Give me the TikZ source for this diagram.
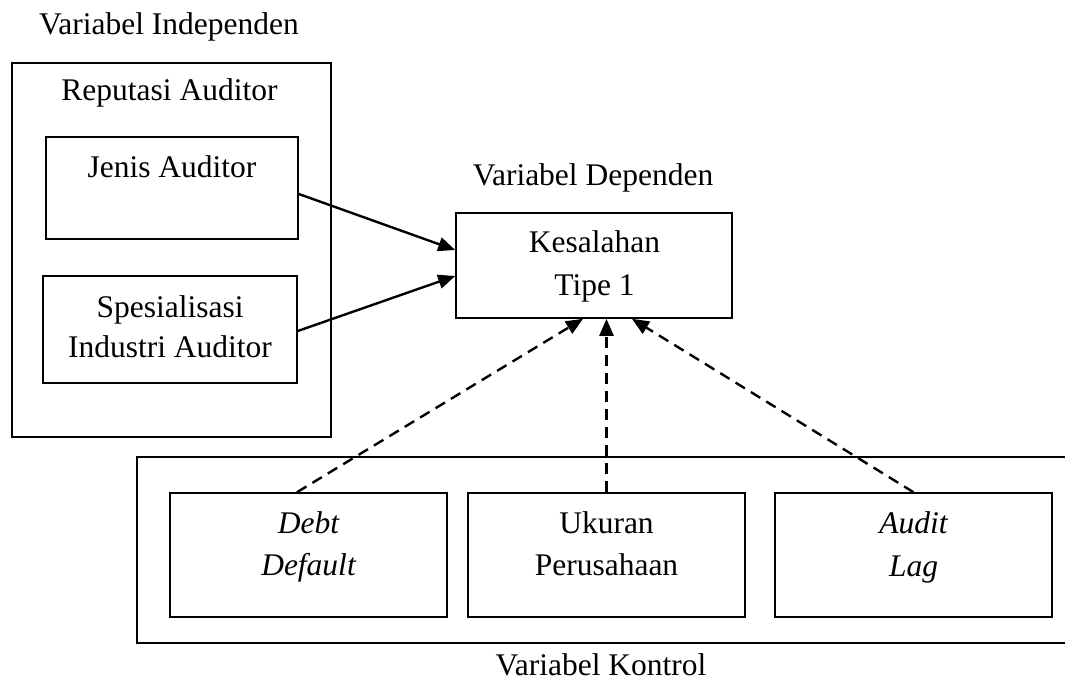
\documentclass[tikz,border=0pt]{standalone}
\usepackage{fontspec}
\setmainfont{Liberation Serif}
\usetikzlibrary{calc,arrows.meta}
\begin{document}
\begin{tikzpicture}[x=1pt,y=-1pt,
  every node/.style={font=\fontsize{31.5}{42}\selectfont},
  box/.style={draw, line width=1.6pt, inner sep=0pt},
  lbl/.style={anchor=base, inner sep=0pt},
  link/.style={line width=2.4pt, -{Triangle[length=17pt,width=14pt]}},
  ctrl/.style={link, dash pattern=on 11pt off 7pt},
  frame/.style={line width=1.6pt}]
\useasboundingbox (0,0) rectangle (1065,690);

% independent variables
\node[lbl] (tindep) at (169,35) {Variabel Independen};
\node[box, minimum width=319, minimum height=374] (rep) at (171.5,250) {};
\node[lbl] (trep) at (169.5,101) {Reputasi Auditor};
\node[box, minimum width=252, minimum height=102] (jenis) at (172,188) {};
\node[lbl] (tjenis) at (172,177) {Jenis Auditor};
\node[box, minimum width=254, minimum height=107] (spes) at (170,329.5) {};
\node[lbl] (tspes1) at (170,317) {Spesialisasi};
\node[lbl] (tspes2) at (170,357) {Industri Auditor};

% dependent variable
\node[lbl] (tdep) at (593,185) {Variabel Dependen};
\node[box, minimum width=276, minimum height=105] (kes) at (594,265.5) {};
\node[lbl] (tkes1) at (594.5,252) {Kesalahan};
\node[lbl] (tkes2) at (594.5,295) {Tipe 1};

% control variables
\draw[frame] (1070,457) -- (137,457) -- (137,643) -- (1070,643);
\node[box, minimum width=277, minimum height=124] (debt) at (308.5,555) {};
\node[lbl] (tdebt1) at (308.5,533) {\itshape Debt};
\node[lbl] (tdebt2) at (308.5,575) {\itshape Default};
\node[box, minimum width=277, minimum height=124] (uk) at (606.5,555) {};
\node[lbl] (tuk1) at (606.5,533) {Ukuran};
\node[lbl] (tuk2) at (606.5,575) {Perusahaan};
\node[box, minimum width=277, minimum height=124] (lag) at (913.5,555) {};
\node[lbl] (tlag1) at (913.5,533) {\itshape Audit};
\node[lbl] (tlag2) at (913.5,576) {\itshape Lag};
\node[lbl] (tkon) at (601,675) {Variabel Kontrol};

% connectors
\draw[link] ($(jenis.east)+(0,6)$) -- ($(kes.west)+(0,-15.5)$);
\draw[link] ($(spes.east)+(0,1.5)$) -- ($(kes.west)+(0,10.5)$);
\draw[ctrl] ($(debt.north)+(-11.5,0)$) -- ($(kes.south)+(-11,0)$);
\draw[ctrl] (uk.north) -- (uk.north |- kes.south);
\draw[ctrl] (lag.north) -- ($(kes.south)+(38,0)$);
\end{tikzpicture}
\end{document}
